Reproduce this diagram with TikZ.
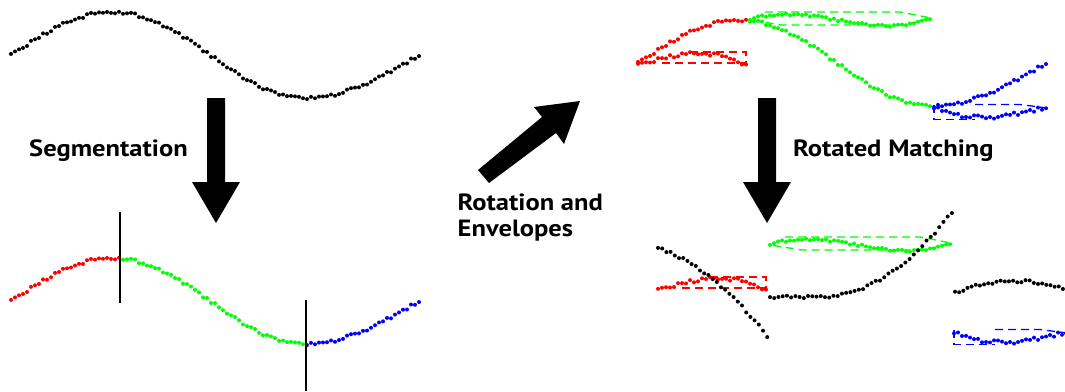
\documentclass[tikz,border=0pt]{standalone}
\usepackage{fontspec}
\setmainfont[FakeStretch=1.13]{PT Sans}
\definecolor{sred}{RGB}{255,0,0}
\definecolor{sgreen}{RGB}{0,255,0}
\definecolor{sblue}{RGB}{0,0,255}
\tikzset{
  env/.style={draw=#1, line width=1.3pt, dash pattern=on 8pt off 5pt},
  blockarrow/.style={fill=black},
  lab/.style={anchor=base west, inner sep=0pt, font=\fontsize{23.5}{28}\selectfont\bfseries},
  segline/.style={draw=black, line width=2pt},
}
\newcommand\dotr{2.0}
% base wave, precomputed with noise
\newcommand\precomputewave{%
  \pgfmathsetseed{2718}%
  \foreach \i in {0,...,102}{%
    \pgfmathsetmacro\xx{11+4*\i}%
    \pgfmathsetmacro\ph{(\xx<113)?((\xx-11)/102*90):((\xx<210)?(90+(\xx-113)/97*90):((\xx<305)?(180+(\xx-210)/95*90):(270+(\xx-305)/114*90)))}%
    \pgfmathsetmacro\ww{55-43*sin(\ph)}%
    \pgfmathsetmacro\yy{\ww+1.5*rand}%
    \expandafter\xdef\csname wx\i\endcsname{\xx}%
    \expandafter\xdef\csname ww\i\endcsname{\ww}%
    \expandafter\xdef\csname wy\i\endcsname{\yy}%
  }}
% dots of indices #1..#2, colour #3, shifted by (#4,#5)
\newcommand\segdots[5]{%
  \foreach \i in {#1,...,#2}{%
    \edef\ax{\csname wx\i\endcsname}\edef\ay{\csname wy\i\endcsname}%
    \pgfmathsetmacro\px{\ax+#4}\pgfmathsetmacro\py{\ay+#5}%
    \fill[#3] (\px,\py) circle[radius=\dotr];}}
% detrended ("rotated") dots: indices #1..#2, colour #3, dx #4, baseline #5, factor #6
\newcommand\flatdots[6]{%
  \edef\wa{\csname ww#1\endcsname}\edef\wb{\csname ww#2\endcsname}%
  \foreach \i in {#1,...,#2}{%
    \edef\ax{\csname wx\i\endcsname}\edef\ay{\csname wy\i\endcsname}%
    \pgfmathsetmacro\px{\ax+#4}%
    \pgfmathsetmacro\py{#5+#6*(\ay-(\wa+(\wb-\wa)*(\i-#1)/(#2-#1)))}%
    \fill[#3] (\px,\py) circle[radius=\dotr];}}
\newcommand\flatset{%
  \draw[env=sred] (690,52) -- (746,52) -- (746,63) -- (662,63);
  \draw[env=sgreen] (765,12) -- (900,12) -- (931,18) -- (905,25) -- (782,25) -- (750,20);
  \draw[env=sblue] (975,104.5) -- (1020,104.5) -- (1047,108);
  \draw[env=sblue] (934,105) -- (934,119.5) -- (975,119.5);
  \flatdots{0}{27}{sred}{627}{65}{1.1}
  \flatdots{28}{73}{sgreen}{627}{19}{0.75}
  \flatdots{74}{102}{sblue}{627}{107}{1.2}
}
\begin{document}
\begin{tikzpicture}[x=1pt,y=-1pt]
\useasboundingbox (0,0) rectangle (1065,391);
\precomputewave
% top-left original series
\segdots{0}{102}{black}{0}{0}
% arrows
\fill[blockarrow] (207,98) -- (225,98) -- (225,182) -- (240,182) -- (216,223) -- (192,182) -- (207,182) -- cycle;
\fill[blockarrow] (758,98) -- (776,98) -- (776,182) -- (791,182) -- (767,223) -- (743,182) -- (758,182) -- cycle;
\fill[blockarrow] (478,170) -- (542,117) -- (534,107) -- (580,101) -- (564,144) -- (556,133) -- (489,183) -- cycle;
% labels
\node[lab] (seg) at (29,156) {Segmentation};
\node[lab] (rot1) at (457.5,210) {Rotation and};
\node[lab] (rot2) at (457.5,236.7) {Envelopes};
\node[lab] (match) at (793,156) {Rotated Matching};
% bottom-left segmented series
\segdots{0}{27}{sred}{0}{246}
\segdots{28}{73}{sgreen}{0}{246}
\segdots{74}{102}{sblue}{0}{246}
\coordinate (c1a) at (120,212); \coordinate (c1b) at (120,303);
\coordinate (c2a) at (305.5,300); \coordinate (c2b) at (305.5,391);
\draw[segline] (c1a) -- (c1b);
\draw[segline] (c2a) -- (c2b);
% top-right: segments and their rotated versions
\segdots{0}{27}{sred}{627}{8}
\segdots{28}{73}{sgreen}{627}{8}
\segdots{74}{102}{sblue}{627}{8}
\flatset
% bottom-right: matching
\begin{scope}[shift={(20,225)}]
\flatset
\end{scope}
\pgfmathsetseed{99}
\foreach \i in {0,...,26}{%
  \pgfmathsetmacro\px{658+4.2*\i}%
  \pgfmathsetmacro\py{248+0.33*(\px-658)+(0.0662*(\px-658))^2+1.3*rand}%
  \fill[black] (\px,\py) circle[radius=\dotr];}
\foreach \i in {0,...,43}{%
  \pgfmathsetmacro\px{770+4.23*\i}%
  \pgfmathsetmacro\py{297-(0.06986*max(0,\px-820))^2+1.3*rand}%
  \fill[black] (\px,\py) circle[radius=\dotr];}
\foreach \i in {0,...,26}{%
  \pgfmathsetmacro\px{955+4.15*\i}%
  \pgfmathsetmacro\py{281+(0.0574*(\px-1015))^2+1.3*rand}%
  \fill[black] (\px,\py) circle[radius=\dotr];}
\end{tikzpicture}
\end{document}
